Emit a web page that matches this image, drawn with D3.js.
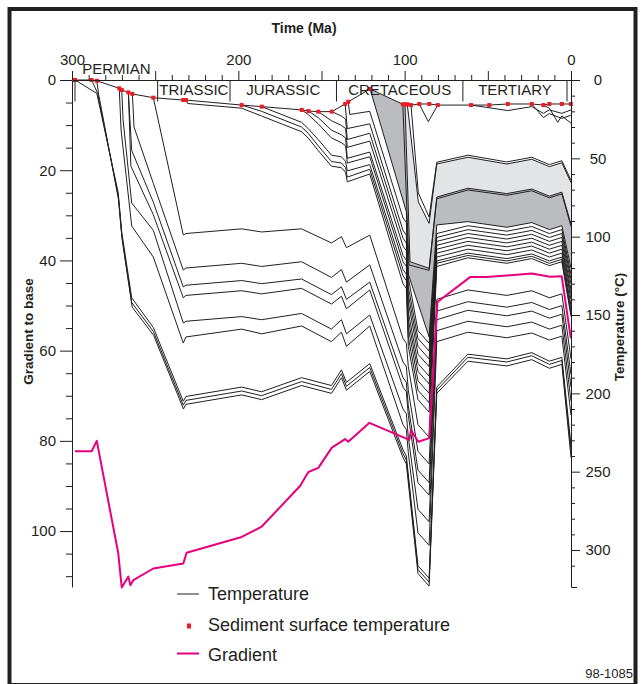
<!DOCTYPE html>
<html><head><meta charset="utf-8">
<script src="https://cdn.jsdelivr.net/npm/d3@7"></script>
<style>
body{margin:0;background:#fff;}
svg text{font-family:"Liberation Sans",Arial,Helvetica,sans-serif;fill:#231f20;}
</style></head><body>
<svg id="chart" width="643" height="684"></svg>
<script>
// ---------- DATA (time in Ma, temperature in °C, gradient in left-axis units) ----------
const timeTicks = [300, 200, 100, 0];
const gradientTicks = [0, 20, 40, 60, 80, 100];
const temperatureTicks = [0, 50, 100, 150, 200, 250, 300];
const periodEdges = [298.2, 248.5, 205, 141, 65, 2.4];
const periodNames = ["PERMIAN", "TRIASSIC", "JURASSIC", "CRETACEOUS", "TERTIARY"];
const legendLabels = ["Temperature", "Sediment surface temperature", "Gradient"];

// Sediment surface temperature (red squares)
const surfaceTemps = [[298.2,0],[288.2,0],[285.1,0.5],[271.6,5.3],[270.1,6.4],[266.1,7.9],[263.7,8.9],[251.1,11.3],[233.1,12.8],[231.5,12.8],[198,16],[185.9,17],[161.9,19.1],[157.9,19.8],[151.9,20.2],[143.8,20.2],[135.8,15.3],[133.9,13.9],[120.8,5.7],[101.1,15.5],[99.8,15.5],[98.4,15.5],[96.2,16],[91.2,15.3],[85.2,15.3],[80.1,16],[60.1,16],[49.1,16],[38,15.3],[23.6,15.3],[16.6,16],[13,15.3],[5.5,15.3],[0.1,15.3]];

// Gradient to base (pink)
const gradient = [[298.2,82.3],[288.2,82.3],[285.1,80],[272.2,104.9],[270.1,112.5],[266.1,110.1],[264.9,112],[263.1,110.9],[251.1,108.3],[233.1,107.2],[231.1,104.8],[198,101.3],[185.9,99],[162.9,90],[157.9,86.9],[151.9,86],[143.8,81.5],[135.8,79.6],[133.9,80.2],[121.2,76],[97.2,79.8],[96.2,77.6],[91.8,80.2],[85.2,79.4],[80.3,49.2],[60.7,43.7],[50.6,43.7],[23.6,42.9],[12.6,43.6],[5.6,43.5],[0.1,57.3]];

// Temperature histories of horizons
const permianLines = [
 [[298.2,0],[285.1,8.5],[272.2,72],[270.1,97],[264.1,139],[251.1,158],[233.1,205],[231.5,202],[198,196],[186,199],[162,190],[144,195],[138,185],[135,193],[121,181],[101,236],[99,240],[92,310],[85.3,318],[80.7,196],[62,175],[38.6,178],[23.6,174],[13,179.5],[5.5,177],[0,233]],
 [[288.2,0],[284.6,8.5],[272.2,74],[270.1,99.5],[264.1,142],[251.1,160.5],[233.1,207.5],[231.5,204.5],[198,198.5],[186,201.5],[162,192.5],[144,197.5],[138,187.5],[135,195.5],[121,183.5],[101,238.5],[99,242.5],[92,312.5],[85.3,320.5],[80.7,198],[62,177],[38.6,180],[23.6,176],[13,181.5],[5.5,179],[0,237]],
 [[285.1,0.5],[284,9],[272,76.5],[269.8,102],[263.8,145],[250.9,163],[233,210],[231.5,207],[198,201],[186,204],[162,195],[144,200],[138,190],[135,198],[121,186],[101,241],[99,245],[92,315],[85.3,323],[80.7,200],[62,179.5],[38.6,182.5],[23.6,178.5],[13,184],[5.5,181.5],[0,241]]
];
const triassicLines = [
 [[251.1,11.3],[233.1,98.9],[231.5,98],[198,95],[186,97],[162,95],[144,104],[138,100],[135,107],[121,99],[101,165],[99,168],[97.8,183],[92,220],[85.3,228],[80.7,119],[62,113.5],[38.6,117],[23.6,114],[13,118.5],[5.5,116],[0,151]],
 [[263.7,8.9],[262.7,30],[251.1,66],[233.1,121.3],[231.5,120],[198,117],[186,119],[162,116],[144,126],[138,121],[135,129],[121,118],[101,180],[99,183],[97.8,198],[92,237],[85.3,245],[80.7,140],[62,134],[38.6,137.5],[23.6,134.5],[13,139],[5.5,136.5],[0,178]],
 [[266.1,7.9],[264.1,45],[251.1,78],[233.1,132.1],[231.5,131],[198,128],[186,130],[162,127],[144,137],[138,132],[135,140],[121,129],[101,190],[99,193],[97.8,208],[92,249],[85.3,257],[80.7,147.5],[62,141.5],[38.6,145],[23.6,142],[13,146.5],[5.5,144],[0,188]],
 [[266.1,7.9],[264.6,55],[251.1,86],[233.1,139],[231.5,137.5],[198,134.5],[186,136.5],[162,133],[144,143],[138,138],[135,146],[121,134],[101,196],[99,199],[97.8,214],[92,257],[85.3,265],[80.7,153],[62,147],[38.6,150.5],[23.6,147.5],[13,152],[5.5,149.5],[0,196]],
 [[270.1,6.4],[269.3,25.5],[264.1,78.5],[251.1,96],[233.1,155.1],[231.5,154],[198,151],[186,153],[162,149],[144,159],[138,153],[135,162],[121,150],[101,210],[99,213],[97.8,228],[92,274],[85.3,282],[80.7,160],[62,154],[38.6,157.5],[23.6,154.5],[13,159],[5.5,156.5],[0,205]],
 [[271.6,5.3],[270.5,31.9],[264.1,93.2],[251.1,113],[233.1,167.9],[231.5,164],[198,159],[186,162],[162,157],[144,167],[138,161],[135,170],[121,157],[101,220],[99,223],[97.8,238],[92,289],[85.3,297],[80.7,167],[62,161],[38.6,164.5],[23.6,161.5],[13,166],[5.5,163.5],[0,214]]
];
const jurassicLines = [
 [[231.5,12.8],[230.5,15],[198,18],[186,23],[162,33],[158,37],[152,45],[144,55],[138,56],[135.5,59],[134.5,65],[121,60],[101,130],[99,133],[97.8,170],[92,204],[85.3,212],[80.7,117],[62,112],[38.6,115.5],[23.6,112.5],[13,117],[5.5,114.5],[0,149]],
 [[198,16],[186,20],[162,30],[158,34],[152,42],[144,52],[138,53],[135.5,56],[134.5,62],[121,57],[101,125],[99,128],[97.8,164],[92,198],[85.3,206],[80.7,115.5],[62,110.5],[38.6,114],[23.6,111],[13,115.5],[5.5,113],[0,147]],
 [[186,17],[162,27],[158,31],[152,38],[144,48],[138,49],[135.5,52],[134.5,58],[121,54],[101,121],[99,124],[97.8,158],[92,192],[85.3,200],[80.7,113],[62,108],[38.6,111.5],[23.6,108.5],[13,113],[5.5,110.5],[0,144]],
 [[161.9,19.1],[158,22],[152,28],[144,37],[138,40],[135.5,42],[134.5,53],[121,49],[101,116],[99,119],[97.8,153],[92,186],[85.3,194],[80.7,110.5],[62,105.5],[38.6,109],[23.6,106],[13,110.5],[5.5,108],[0,140]],
 [[157.9,19.8],[152,24],[144,32],[138,35],[135.5,37],[134.5,50],[121,46],[101,112],[99,115],[97.8,148],[92,181],[85.3,189],[80.7,108],[62,103],[38.6,106.5],[23.6,103.5],[13,108],[5.5,105.5],[0,137]],
 [[151.9,20.2],[144,26],[138,29],[135.5,31],[134.5,43],[121,39],[101,106],[99,109],[97.8,142],[92,175],[85.3,183],[80.7,105.5],[62,100.5],[38.6,104],[23.6,101],[13,105.5],[5.5,103],[0,134]],
 [[143.8,20.2],[138,23],[135.5,25],[134.5,38],[121,34],[101,101],[99,104],[97.8,137],[92,170],[85.3,178],[80.7,103],[62,98],[38.6,101.5],[23.6,98.5],[13,103],[5.5,100.5],[0,130]],
 [[135.8,15.3],[134.5,31],[121,28],[101,96],[99,99],[97.8,132],[92,165],[85.3,173],[80.7,100.5],[62,95.5],[38.6,99],[23.6,96],[13,100.5],[5.5,98],[0,127]],
 [[133.9,13.9],[133,22],[121,20],[101,88],[99,91],[97.8,126],[92,160],[85.3,168],[80.7,98],[62,93],[38.6,96.5],[23.6,93.5],[13,98],[5.5,95.5],[0,124]]
];
const horizon121 = [[120.8,5.7],[99,84],[97.8,124],[85.3,164],[80.7,92.5],[62,90.4],[38.6,94],[23.6,91],[13,95.5],[5.5,93],[0,120]];
const horizon101 = [[101.1,15.5],[97.4,118],[85.3,121.5],[80.7,75.8],[62,70.2],[38.6,73.6],[23.6,70.7],[13,75.2],[5.5,72.7],[0,93.5]];
const horizon100 = [[99.8,15.5],[96.8,116],[85.3,120.2],[80.7,74.7],[62,69.1],[38.6,72.5],[23.6,69.6],[13,74.1],[5.5,71.6],[0,92]];
const horizon98 = [[98.4,15.5],[91.8,77.7],[85.3,91.5],[80.7,53.6],[62,49.3],[38.6,53.6],[23.6,50.6],[13,55.3],[5.5,52.8],[0,65.5]];
const horizon96 = [[96.2,16],[91.8,72],[85.3,87.5],[80.7,52.5],[62,48],[38.6,52.3],[23.6,49.3],[13,54],[5.5,51.5],[0,64]];
const horizon91 = [[91.2,15.3],[85.8,26.6],[80.1,16]];
const cretaceousLines = [horizon121, horizon101, horizon100, horizon98, horizon96, horizon91];
const tertiaryLines = [
 [[60.1,16],[38,19.5],[23.6,17],[16.6,21.3],[13,19.1],[5.5,21.3],[0,19.1]],
 [[23.6,15.3],[16.6,24],[13,21.5],[5.5,24.5],[0,22.5]],
 [[16.6,16],[13,18],[8,27],[5.5,23],[0,27.5]]
];

// ---------- DRAWING ----------
const ink = "#231f20";
const svg = d3.select("#chart");
const x = d3.scaleLinear().domain([300, 0]).range([72, 571]);
const yT = d3.scaleLinear().domain([0, 323.6]).range([80, 587]);
const yG = d3.scaleLinear().domain([0, 112.4]).range([80, 587]);

// frame
svg.append("rect").attr("x", 9.5).attr("y", 9).attr("width", 626).attr("height", 676)
  .attr("fill", "none").attr("stroke", ink).attr("stroke-width", 4);

const lineT = d3.line().x(d => x(d[0])).y(d => yT(d[1]));
const lineG = d3.line().x(d => x(d[0])).y(d => yG(d[1]));

// shaded units
const darkTop = surfaceTemps.filter(d => d[0] <= 120.8 && d[0] >= 99.8).concat(horizon100.slice(1));
const darkPoly = darkTop.concat(horizon121.slice().reverse());
const lightTop = surfaceTemps.filter(d => d[0] <= 99.8 && d[0] >= 98.4).concat(horizon98.slice(1));
const lightPoly = lightTop.concat(horizon100.slice().reverse());
svg.append("path").attr("d", lineT(darkPoly) + "Z").attr("fill", "#bbbcbf").attr("stroke", "none");
svg.append("path").attr("d", lineT(lightPoly) + "Z").attr("fill", "#e3e4e6").attr("stroke", "none");

// temperature lines
const allLines = [...permianLines, ...triassicLines, ...jurassicLines, ...cretaceousLines, ...tertiaryLines];
svg.append("g").selectAll("path").data(allLines).join("path")
  .attr("d", lineT).attr("fill", "none").attr("stroke", ink).attr("stroke-width", 1);

// surface line
svg.append("path").attr("d", lineT(surfaceTemps)).attr("fill", "none").attr("stroke", ink).attr("stroke-width", 1);

// gradient
svg.append("path").attr("d", lineG(gradient)).attr("fill", "none")
  .attr("stroke", "#e6007e").attr("stroke-width", 2).attr("stroke-linejoin", "round");

// surface squares
svg.append("g").selectAll("rect").data(surfaceTemps).join("rect")
  .attr("x", d => x(d[0]) - 2).attr("y", d => yT(d[1]) - 2)
  .attr("width", 4).attr("height", 4).attr("fill", "#ed1c24");

// top time axis
const gTop = svg.append("g").attr("transform", "translate(0,80)")
  .call(d3.axisTop(x).tickValues(d3.range(0, 301, 10)).tickSize(5).tickSizeOuter(0)
    .tickFormat(d => timeTicks.includes(d) ? d : "").tickPadding(6));
gTop.selectAll(".tick line").attr("y2", d => d % 50 === 0 ? -9 : -5);
gTop.selectAll(".tick text").attr("y", -15);

// left gradient axis
const gLeft = svg.append("g").attr("transform", "translate(72,0)")
  .call(d3.axisLeft(yG).tickValues(d3.range(0, 111, 5)).tickSize(6).tickSizeOuter(0)
    .tickFormat(d => gradientTicks.includes(d) ? d : "").tickPadding(10));
gLeft.selectAll(".tick line").attr("x2", d => d % 20 === 0 ? -12 : -6);

// right temperature axis
const gRight = svg.append("g").attr("transform", "translate(571,0)")
  .call(d3.axisRight(yT).tickValues(d3.range(0, 311, 10)).tickSize(4).tickSizeOuter(6)
    .tickFormat(d => temperatureTicks.includes(d) ? d : "").tickPadding(23));
gRight.selectAll(".tick line").attr("x2", d => d % 50 === 0 ? 9 : 4);
gRight.selectAll(".tick text").attr("text-anchor", "middle");

[gTop, gLeft, gRight].forEach(g => {
  g.attr("font-size", 15).attr("font-family", '"Liberation Sans",Arial,sans-serif');
  g.selectAll("line,path").attr("stroke", ink);
  g.selectAll("text").attr("fill", ink);
});

// period boxes
svg.append("g").selectAll("line").data(periodEdges).join("line")
  .attr("x1", d => x(d)).attr("x2", d => x(d)).attr("y1", 80).attr("y2", 101.5)
  .attr("stroke", ink).attr("stroke-width", 1);
svg.append("g").selectAll("text").data(periodNames).join("text")
  .attr("x", (d, i) => x((periodEdges[i] + periodEdges[i + 1]) / 2))
  .attr("y", (d, i) => i === 0 ? 73.5 : 95)
  .attr("text-anchor", "middle").attr("font-size", 15).text(d => d);

// titles
svg.append("text").attr("x", 304).attr("y", 33).attr("text-anchor", "middle")
  .attr("font-size", 14).attr("font-weight", "bold").text("Time (Ma)");
svg.append("text").attr("transform", "translate(33,331.5) rotate(-90)").attr("text-anchor", "middle")
  .attr("font-size", 13.5).attr("font-weight", "bold").text("Gradient to base");
svg.append("text").attr("transform", "translate(624,327) rotate(-90)").attr("text-anchor", "middle")
  .attr("font-size", 13.5).attr("font-weight", "bold").text("Temperature (°C)");

// legend
const lg = svg.append("g");
lg.append("line").attr("x1", 177).attr("x2", 199).attr("y1", 594).attr("y2", 594).attr("stroke", ink).attr("stroke-width", 1);
lg.append("rect").attr("x", 187).attr("y", 623.5).attr("width", 4).attr("height", 5).attr("fill", "#ed1c24");
lg.append("line").attr("x1", 177).attr("x2", 199).attr("y1", 653.5).attr("y2", 653.5).attr("stroke", "#e6007e").attr("stroke-width", 2);
lg.selectAll("text").data(legendLabels).join("text")
  .attr("x", 208).attr("y", (d, i) => 600 + i * 30.5).attr("font-size", 18).text(d => d);

svg.append("text").attr("x", 633).attr("y", 678).attr("text-anchor", "end").attr("font-size", 13).text("98-1085");
</script>
</body></html>
